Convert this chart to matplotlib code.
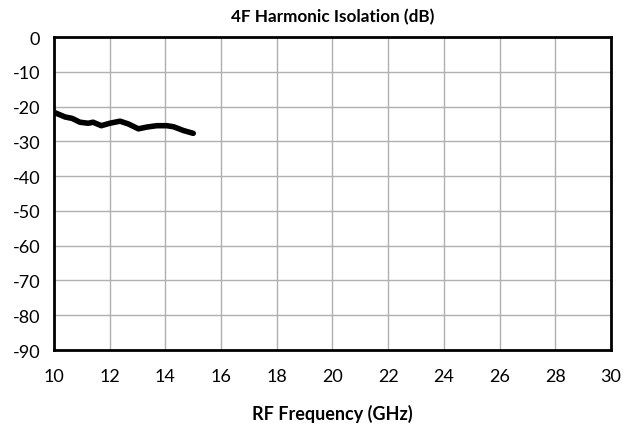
import numpy as np
import matplotlib.pyplot as plt

plt.rcParams['font.family'] = ['Lato', 'DejaVu Sans']
plt.rcParams['axes.unicode_minus'] = False

# data
freq = [10.04, 10.4, 10.65, 10.93, 11.23, 11.4, 11.7, 12.0, 12.37, 12.67,
        13.03, 13.33, 13.69, 14.05, 14.29, 14.65, 15.0]
iso = [-21.8, -23.0, -23.4, -24.5, -24.8, -24.5, -25.5, -24.8, -24.2, -25.0,
       -26.4, -25.9, -25.5, -25.5, -25.8, -26.9, -27.7]
xticks = np.arange(10, 31, 2)
yticks = np.arange(-90, 1, 10)

fig = plt.figure(figsize=(6.26, 4.31), dpi=100)
ax = fig.add_axes([0.0863, 0.1856, 0.8897, 0.7262])

ax.plot(freq, iso, color='black', linewidth=4, solid_capstyle='round')

ax.set_xlim(10, 30)
ax.set_ylim(-90, 0)
ax.set_xticks(xticks)
ax.set_yticks(yticks)
ax.grid(True, color='#b0b0b0', linewidth=1)
ax.set_axisbelow(True)
ax.tick_params(length=0, labelsize=13, pad=10)
ax.tick_params(axis='x', pad=13)
for s in ax.spines.values():
    s.set_linewidth(2)
    s.set_color('black')

ax.set_title('4F Harmonic Isolation (dB)', fontsize=12.3, fontweight='bold', pad=11)
ax.set_xlabel('RF Frequency (GHz)', fontsize=13, fontweight='bold', labelpad=14)

fig.savefig('out.png', dpi=100)
